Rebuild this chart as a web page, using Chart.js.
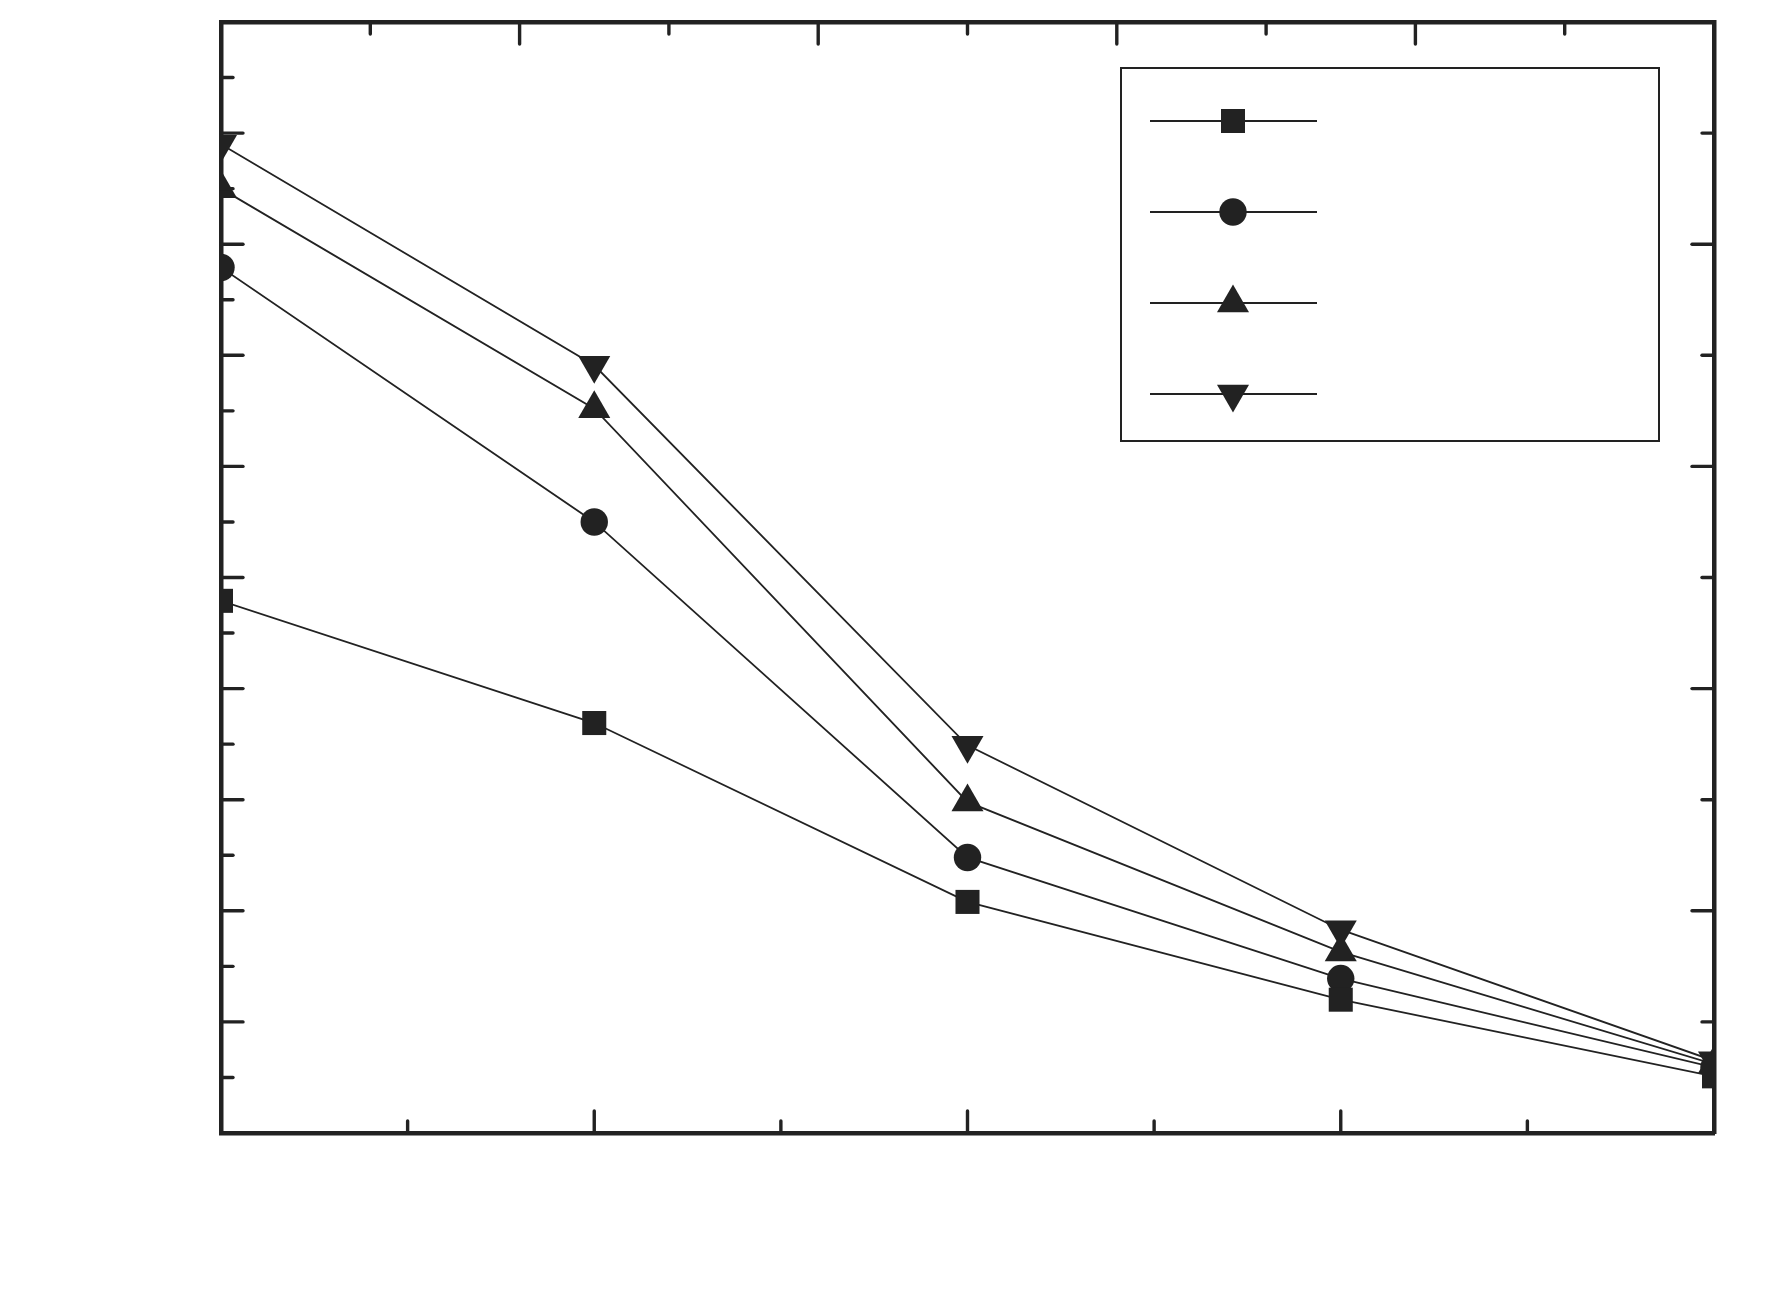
<!DOCTYPE html>
<html>
<head>
<meta charset="utf-8">
<script src="https://cdn.jsdelivr.net/npm/chart.js@4/dist/chart.umd.min.js"></script>
<style>
  body { margin: 0; background: #fff; }
  #wrap { width: 1770px; height: 1306px; }
</style>
</head>
<body>
<div id="wrap"><canvas id="lossChart" width="1770" height="1306"></canvas></div>
<script>
// x positions of the five measurements
const xValues = [0, 1, 2, 3, 4];

// one series per marker shape (no labels in the original figure)
const squareValues = [4.79, 3.69, 2.08, 1.20, 0.51];
const circleValues = [7.79, 5.50, 2.48, 1.39, 0.59];
const upTriangleValues = [8.50, 6.52, 2.98, 1.63, 0.62];
const downTriangleValues = [8.90, 6.91, 3.49, 1.83, 0.65];

const ink = '#222222';

function toPoints(values) {
    return values.map((v, i) => ({ x: xValues[i], y: v }));
}

function series(values, pointStyle, radius, rotation) {
    return {
        label: '',
        data: toPoints(values),
        borderColor: ink,
        backgroundColor: ink,
        borderWidth: 1.8,
        pointStyle: pointStyle,
        pointRadius: radius,
        pointRotation: rotation || 0,
        pointBorderWidth: 0,
        pointBackgroundColor: ink,
        tension: 0,
        clip: 0
    };
}

// inward tick marks on all four sides; long ones every "major" step
const majorStep = { x: 1, x2: 2, y: 1, y2: 2 };

const innerTicks = {
    id: 'innerTicks',
    afterDraw(chart) {
        const ctx = chart.ctx;
        const area = chart.chartArea;
        ctx.save();
        ctx.strokeStyle = ink;
        ctx.lineWidth = 3.4;
        ctx.lineCap = 'round';
        Object.keys(majorStep).forEach(id => {
            const scale = chart.scales[id];
            scale.ticks.forEach(t => {
                if (t.value <= scale.min || t.value >= scale.max) return;
                const len = Math.abs(t.value % majorStep[id]) < 1e-6 ? 22 : 12;
                const p = scale.getPixelForValue(t.value);
                ctx.beginPath();
                if (id === 'x') { ctx.moveTo(p, area.bottom); ctx.lineTo(p, area.bottom - len); }
                if (id === 'x2') { ctx.moveTo(p, area.top); ctx.lineTo(p, area.top + len); }
                if (id === 'y') { ctx.moveTo(area.left, p); ctx.lineTo(area.left + len, p); }
                if (id === 'y2') { ctx.moveTo(area.right, p); ctx.lineTo(area.right - len, p); }
                ctx.stroke();
            });
        });
        ctx.restore();
    }
};

// legend box with line + marker samples, no text (as in the figure)
const markerLegend = {
    id: 'markerLegend',
    afterDraw(chart) {
        const ctx = chart.ctx;
        const box = { left: 1121, top: 68, right: 1659, bottom: 441 };
        const rows = [121, 212, 303, 394];
        ctx.save();
        ctx.strokeStyle = ink;
        ctx.lineWidth = 2;
        ctx.strokeRect(box.left, box.top, box.right - box.left, box.bottom - box.top);
        chart.data.datasets.forEach((ds, i) => {
            const y = rows[i];
            ctx.strokeStyle = ink;
            ctx.lineWidth = 1.8;
            ctx.beginPath();
            ctx.moveTo(1150, y);
            ctx.lineTo(1317, y);
            ctx.stroke();
            ctx.fillStyle = ink;
            Chart.helpers.drawPoint(ctx, {
                pointStyle: ds.pointStyle,
                radius: ds.pointRadius,
                rotation: ds.pointRotation,
                borderWidth: 0
            }, 1233, y);
        });
        ctx.restore();
    }
};

const ctx = document.getElementById('lossChart').getContext('2d');

const hiddenScale = (position, min, max, step) => ({
    type: 'linear',
    position: position,
    min: min,
    max: max,
    ticks: { display: false, stepSize: step },
    grid: { display: false },
    border: { display: true, color: ink, width: 4.5 }
});

new Chart(ctx, {
    type: 'line',
    data: {
        datasets: [
            series(squareValues, 'rect', 17),
            series(circleValues, 'circle', 13.7),
            series(upTriangleValues, 'triangle', 18.5),
            series(downTriangleValues, 'triangle', 18.5, 180)
        ]
    },
    options: {
        responsive: false,
        animation: false,
        layout: {
            padding: { left: 213, top: 14, right: 48, bottom: 165 }
        },
        scales: {
            x: hiddenScale('bottom', 0, 4, 0.5),
            x2: hiddenScale('top', 0, 10, 1),
            y: hiddenScale('left', 0, 10, 0.5),
            y2: hiddenScale('right', 0, 10, 1)
        },
        plugins: {
            legend: { display: false },
            tooltip: { enabled: false }
        }
    },
    plugins: [innerTicks, markerLegend]
});
</script>
</body>
</html>
